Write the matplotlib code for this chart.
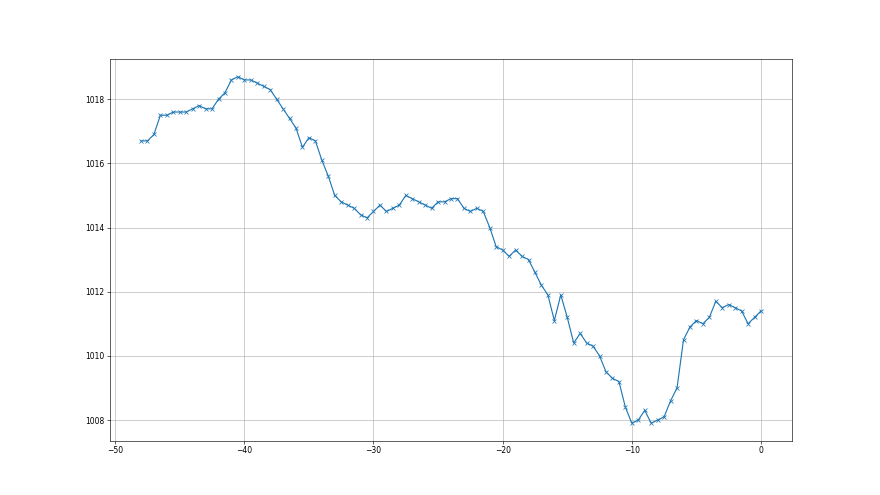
import matplotlib
matplotlib.use("Agg")
import matplotlib.pyplot as plt
import numpy as np

# hours relative to now, every half hour
hours = np.arange(-48, 0.5, 0.5)

pressure = [
    1016.7, 1016.7, 1016.9, 1017.5, 1017.5, 1017.6, 1017.6, 1017.6, 1017.7, 1017.8,
    1017.7, 1017.7, 1018.0, 1018.2, 1018.6, 1018.7, 1018.6, 1018.6, 1018.5, 1018.4,
    1018.3, 1018.0, 1017.7, 1017.4, 1017.1, 1016.5, 1016.8, 1016.7, 1016.1, 1015.6,
    1015.0, 1014.8, 1014.7, 1014.6, 1014.4, 1014.3, 1014.5, 1014.7, 1014.5, 1014.6,
    1014.7, 1015.0, 1014.9, 1014.8, 1014.7, 1014.6, 1014.8, 1014.8, 1014.9, 1014.9,
    1014.6, 1014.5, 1014.6, 1014.5, 1014.0, 1013.4, 1013.3, 1013.1, 1013.3, 1013.1,
    1013.0, 1012.6, 1012.2, 1011.9, 1011.1, 1011.9, 1011.2, 1010.4, 1010.7, 1010.4,
    1010.3, 1010.0, 1009.5, 1009.3, 1009.2, 1008.4, 1007.9, 1008.0, 1008.3, 1007.9,
    1008.0, 1008.1, 1008.6, 1009.0, 1010.5, 1010.9, 1011.1, 1011.0, 1011.2, 1011.7,
    1011.5, 1011.6, 1011.5, 1011.4, 1011.0, 1011.2, 1011.4,
]

fig, ax = plt.subplots(figsize=(16, 9), dpi=55)
ax.plot(hours, pressure, marker="x")
ax.grid(True)

plt.savefig("out.png")
